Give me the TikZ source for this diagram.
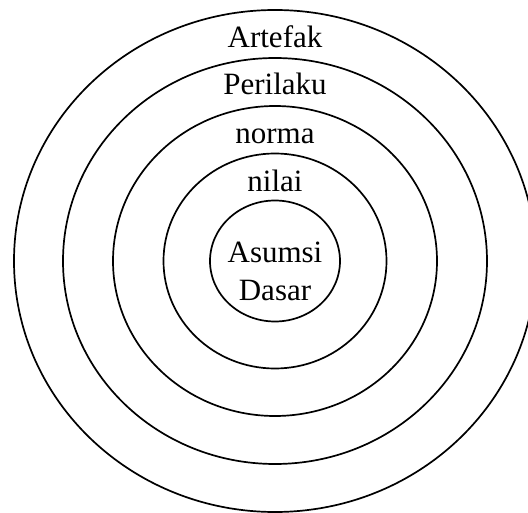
\documentclass[tikz,border=0pt]{standalone}
\usepackage{fontspec}
\setmainfont{Liberation Serif}
\begin{document}
\begin{tikzpicture}[x=1pt, y=-1pt,
  ring/.style={draw, line width=1.7pt},
  layer/.style={anchor=base, inner sep=0pt, font=\fontsize{31}{38}\selectfont}]
\useasboundingbox (0,0) rectangle (528,513);
\clip (0,0) rectangle (528,513);
\coordinate (c) at (275,261);
% rings, from outside in
\draw[ring] (c) ellipse [x radius=261pt, y radius=251pt];
\draw[ring] (c) ellipse [x radius=212pt, y radius=203pt];
\draw[ring] (c) ellipse [x radius=162pt, y radius=155pt];
\draw[ring] (c) ellipse [x radius=111.5pt, y radius=107.5pt];
\draw[ring] (c) ellipse [x radius=65pt, y radius=60.5pt];
% labels
\node[layer] (artefak) at (275,48) {Artefak};
\node[layer] (perilaku) at (275,95) {Perilaku};
\node[layer] (norma) at (275,144) {norma};
\node[layer] (nilai) at (275,192) {nilai};
\node[layer, align=center] (asumsi) at (275,301) {Asumsi\\Dasar};
\end{tikzpicture}
\end{document}
